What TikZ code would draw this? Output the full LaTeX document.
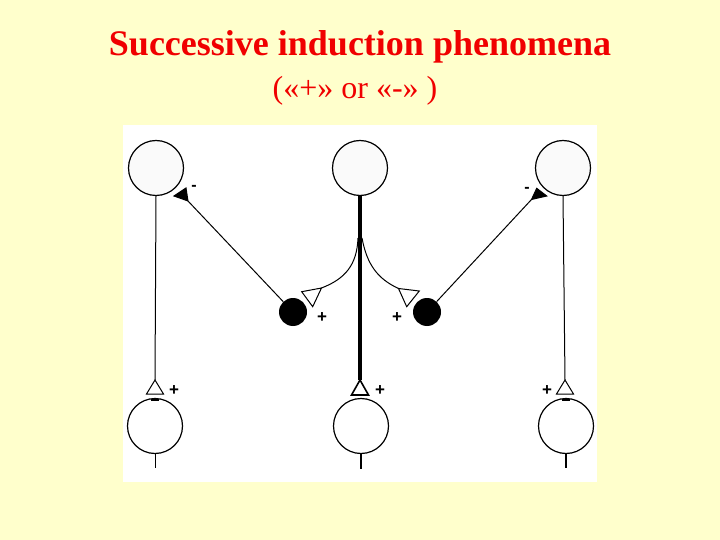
\documentclass[tikz,border=0pt]{standalone}
\usepackage{fontspec}
\setmainfont{Liberation Serif}
\newfontfamily\lblfont{Liberation Sans}
\definecolor{bgyellow}{RGB}{255,255,204}
\definecolor{titlered}{RGB}{240,0,0}
\definecolor{cellfill}{RGB}{250,250,250}
\begin{document}
\begin{tikzpicture}[x=1pt,y=-1pt,
  cell/.style={circle,draw=black,line width=1.2pt,fill=cellfill,minimum size=55pt,inner sep=0pt},
  lowcell/.style={cell,fill=white},
  inhib/.style={circle,fill=black,minimum size=28pt,inner sep=0pt},
  thin/.style={line width=1pt},
  thick/.style={line width=3.5pt},
  synopen/.style={draw=black,fill=white,line width=1pt,line join=miter},
  synfill/.style={draw=black,fill=black,line width=1pt},
  lbl/.style={font=\lblfont\bfseries\fontsize{17}{17}\selectfont,inner sep=0pt},
  minus/.style={font=\lblfont\bfseries\fontsize{16}{16}\selectfont,inner sep=0pt}
]
\useasboundingbox (0,0) rectangle (720,540);
\fill[bgyellow] (0,0) rectangle (720,540);
\fill[white] (123,125) rectangle (597,482);

% title
\node[anchor=base,font=\bfseries\fontsize{36}{36}\selectfont,text=titlered,inner sep=0pt] (title) at (360,56) {Successive induction phenomena};
\node[anchor=base,font=\fontsize{32}{32}\selectfont,text=titlered,inner sep=0pt] (subtitle) at (355,99) {(«+» or «-» )};

% top cells
\node[cell] (tl) at (156,168) {};
\node[cell] (tm) at (360,168) {};
\node[cell] (tr) at (563,168) {};
% bottom cells
\node[lowcell] (bl) at (155,426) {};
\node[lowcell] (bm) at (361,426) {};
\node[lowcell] (br) at (566,426) {};
% inhibitory interneurons
\node[inhib] (dl) at (293,312) {};
\node[inhib] (dr) at (427,312) {};

% synapse points
\coordinate (sl) at (155,380);
\coordinate (sm) at (360,380);
\coordinate (sr) at (565,380);
\coordinate (branchl) at (358,238);
\coordinate (branchr) at (362,238);
\coordinate (el) at (321.5,288);
\coordinate (er) at (398.5,288.5);
\coordinate (il) at (188,201);
\coordinate (ir) at (531.5,199.5);

% main axons
\draw[thin] (tl.south) -- (sl);
\draw[thick] (tm.south) -- (sm);
\draw[thin] (tr.south) -- (sr);

% collaterals to interneurons
\draw[thin] (branchl) .. controls (357,265) and (345,279) .. (el);
\draw[thin] (branchr) .. controls (367,265) and (378,279) .. (er);

% interneuron axons
\draw[thin] (dl) -- (il);
\draw[thin] (dr) -- (ir);

% excitatory synapses on bottom cells
\draw[synopen] (sl) -- ++(-8.5,14) -- ++(17,0) -- cycle;
\draw[synopen,line width=1.6pt] (sm) -- ++(-8.5,15) -- ++(17,0) -- cycle;
\draw[synopen] (sr) -- ++(-8.5,14) -- ++(17,0) -- cycle;
\draw[line width=2pt] (151,399.5) -- (159,399.5);
\draw[line width=2pt] (562,399.5) -- (570,399.5);

% excitatory synapses on interneurons
\draw[synopen] (el) -- (301.7,291.7) -- (312.7,306.7) -- cycle;
\draw[synopen] (er) -- (419.3,291) -- (406.7,306.7) -- cycle;

% inhibitory synapses on top cells
\draw[synfill] (il) -- (174,196) -- (186,188) -- cycle;
\draw[synfill] (ir) -- (536.7,188.3) -- (546.7,196) -- cycle;

% output tails
\draw[thin] (bl.south) -- ++(0,14);
\draw[line width=2.5pt] (bm.south) -- ++(0,15);
\draw[line width=2pt] (br.south) -- ++(0,14);

% labels
\node[lbl] (pl) at (174,391) {+};
\node[lbl] (pm) at (380,391) {+};
\node[lbl] (pr) at (547,391) {+};
\node[lbl] (pdl) at (322,318) {+};
\node[lbl] (pdr) at (397,318) {+};
\node[minus] (ml) at (194,188) {-};
\node[minus] (mr) at (527,190) {-};
\end{tikzpicture}
\end{document}
